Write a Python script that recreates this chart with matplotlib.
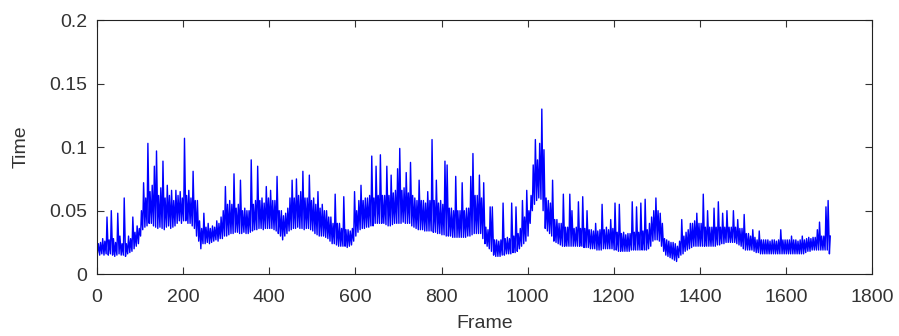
import numpy as np
import matplotlib
matplotlib.use("Agg")
import matplotlib.pyplot as plt

# Samples are read per 5-frame window: lowest and highest time in each window
frame_start = 1
frame_step = 5

window_min = [
    # 1-96
    0.017, 0.015, 0.016, 0.015, 0.016, 0.015, 0.016, 0.015, 0.014, 0.015,
    0.016, 0.015, 0.015, 0.014, 0.016, 0.017, 0.018, 0.020, 0.022, 0.024,
    # 101-196
    0.030, 0.035, 0.037, 0.038, 0.040, 0.040, 0.038, 0.037, 0.036, 0.037,
    0.036, 0.035, 0.037, 0.038, 0.036, 0.037, 0.038, 0.040, 0.042, 0.040,
    # 201-296
    0.042, 0.042, 0.040, 0.040, 0.038, 0.036, 0.030, 0.026, 0.020, 0.024,
    0.024, 0.025, 0.024, 0.025, 0.026, 0.027, 0.026, 0.028, 0.028, 0.030,
    # 301-396
    0.030, 0.031, 0.032, 0.032, 0.033, 0.033, 0.032, 0.032, 0.033, 0.032,
    0.032, 0.033, 0.034, 0.035, 0.035, 0.036, 0.036, 0.035, 0.036, 0.036,
    # 401-496
    0.036, 0.036, 0.035, 0.034, 0.032, 0.030, 0.027, 0.030, 0.032, 0.034,
    0.035, 0.036, 0.036, 0.037, 0.036, 0.036, 0.035, 0.036, 0.036, 0.035,
    # 501-596
    0.034, 0.032, 0.031, 0.030, 0.030, 0.030, 0.029, 0.028, 0.026, 0.024,
    0.024, 0.023, 0.022, 0.022, 0.022, 0.022, 0.021, 0.022, 0.023, 0.026,
    # 601-696
    0.030, 0.033, 0.035, 0.036, 0.036, 0.037, 0.037, 0.038, 0.038, 0.040,
    0.040, 0.040, 0.040, 0.040, 0.039, 0.038, 0.038, 0.039, 0.040, 0.040,
    # 701-796
    0.040, 0.040, 0.041, 0.040, 0.040, 0.040, 0.038, 0.037, 0.036, 0.035,
    0.035, 0.035, 0.034, 0.034, 0.034, 0.034, 0.033, 0.033, 0.032, 0.032,
    # 801-896
    0.031, 0.031, 0.030, 0.030, 0.030, 0.029, 0.029, 0.029, 0.029, 0.029,
    0.029, 0.029, 0.030, 0.030, 0.031, 0.032, 0.032, 0.032, 0.032, 0.028,
    # 901-996
    0.024, 0.022, 0.020, 0.018, 0.015, 0.014, 0.014, 0.014, 0.015, 0.015,
    0.016, 0.016, 0.016, 0.017, 0.017, 0.018, 0.020, 0.022, 0.024, 0.026,
    # 1001-1096
    0.030, 0.040, 0.050, 0.055, 0.058, 0.060, 0.059, 0.050, 0.036, 0.034,
    0.032, 0.030, 0.026, 0.025, 0.024, 0.023, 0.022, 0.022, 0.022, 0.022,
    # 1101-1196
    0.022, 0.022, 0.022, 0.022, 0.022, 0.022, 0.021, 0.021, 0.021, 0.020,
    0.020, 0.020, 0.019, 0.019, 0.019, 0.020, 0.020, 0.020, 0.020, 0.020,
    # 1201-1296
    0.019, 0.019, 0.018, 0.018, 0.018, 0.018, 0.018, 0.018, 0.019, 0.019,
    0.019, 0.019, 0.019, 0.019, 0.019, 0.019, 0.020, 0.022, 0.026, 0.027,
    # 1301-1396
    0.027, 0.026, 0.022, 0.018, 0.015, 0.014, 0.013, 0.012, 0.011, 0.010,
    0.013, 0.015, 0.016, 0.018, 0.019, 0.020, 0.021, 0.022, 0.022, 0.022,
    # 1401-1496
    0.022, 0.022, 0.022, 0.022, 0.022, 0.022, 0.022, 0.022, 0.023, 0.023,
    0.024, 0.024, 0.025, 0.025, 0.025, 0.025, 0.025, 0.024, 0.023, 0.022,
    # 1501-1596
    0.020, 0.019, 0.019, 0.019, 0.019, 0.018, 0.017, 0.017, 0.016, 0.016,
    0.016, 0.016, 0.016, 0.016, 0.016, 0.016, 0.016, 0.016, 0.016, 0.016,
    # 1601-1696
    0.016, 0.016, 0.016, 0.016, 0.016, 0.016, 0.016, 0.016, 0.016, 0.017,
    0.018, 0.018, 0.019, 0.019, 0.019, 0.019, 0.019, 0.019, 0.019, 0.019,
    # 1701
    0.016,
]

window_max = [
    # 1-96
    0.024, 0.025, 0.028, 0.026, 0.045, 0.027, 0.050, 0.028, 0.025, 0.048,
    0.030, 0.024, 0.060, 0.024, 0.030, 0.028, 0.045, 0.033, 0.038, 0.036,
    # 101-196
    0.050, 0.072, 0.060, 0.103, 0.065, 0.070, 0.085, 0.097, 0.062, 0.068,
    0.089, 0.060, 0.070, 0.062, 0.066, 0.058, 0.066, 0.062, 0.065, 0.060,
    # 201-296
    0.107, 0.062, 0.066, 0.060, 0.081, 0.058, 0.058, 0.042, 0.036, 0.048,
    0.037, 0.040, 0.036, 0.038, 0.037, 0.042, 0.040, 0.045, 0.050, 0.069,
    # 301-396
    0.055, 0.058, 0.055, 0.079, 0.052, 0.055, 0.074, 0.050, 0.052, 0.050,
    0.050, 0.090, 0.055, 0.058, 0.085, 0.058, 0.060, 0.056, 0.069, 0.060,
    # 401-496
    0.066, 0.058, 0.058, 0.077, 0.050, 0.050, 0.046, 0.048, 0.052, 0.060,
    0.074, 0.060, 0.075, 0.062, 0.065, 0.081, 0.060, 0.060, 0.078, 0.058,
    # 501-596
    0.060, 0.055, 0.065, 0.052, 0.055, 0.050, 0.050, 0.045, 0.045, 0.040,
    0.063, 0.040, 0.040, 0.036, 0.061, 0.035, 0.035, 0.034, 0.036, 0.065,
    # 601-696
    0.050, 0.058, 0.070, 0.058, 0.060, 0.060, 0.062, 0.093, 0.060, 0.085,
    0.062, 0.094, 0.062, 0.062, 0.085, 0.062, 0.078, 0.064, 0.066, 0.083,
    # 701-796
    0.099, 0.066, 0.068, 0.080, 0.064, 0.088, 0.062, 0.060, 0.058, 0.074,
    0.058, 0.058, 0.056, 0.065, 0.058, 0.106, 0.058, 0.074, 0.056, 0.058,
    # 801-896
    0.055, 0.089, 0.086, 0.052, 0.052, 0.050, 0.077, 0.050, 0.050, 0.072,
    0.050, 0.052, 0.052, 0.077, 0.095, 0.062, 0.062, 0.078, 0.060, 0.072,
    # 901-996
    0.037, 0.035, 0.053, 0.053, 0.027, 0.027, 0.026, 0.027, 0.056, 0.028,
    0.029, 0.028, 0.056, 0.030, 0.053, 0.032, 0.036, 0.058, 0.045, 0.066,
    # 1001-1096
    0.050, 0.062, 0.086, 0.106, 0.090, 0.103, 0.130, 0.098, 0.060, 0.058,
    0.056, 0.074, 0.043, 0.043, 0.040, 0.040, 0.063, 0.037, 0.037, 0.063,
    # 1101-1196
    0.050, 0.036, 0.037, 0.057, 0.036, 0.061, 0.036, 0.050, 0.035, 0.035,
    0.034, 0.040, 0.034, 0.035, 0.055, 0.035, 0.037, 0.035, 0.043, 0.036,
    # 1201-1296
    0.056, 0.033, 0.055, 0.032, 0.033, 0.031, 0.032, 0.032, 0.057, 0.033,
    0.053, 0.033, 0.056, 0.034, 0.059, 0.035, 0.040, 0.045, 0.050, 0.060,
    # 1301-1396
    0.050, 0.048, 0.040, 0.028, 0.027, 0.026, 0.025, 0.025, 0.024, 0.022,
    0.026, 0.043, 0.030, 0.033, 0.035, 0.040, 0.040, 0.042, 0.048, 0.040,
    # 1401-1496
    0.040, 0.063, 0.037, 0.050, 0.037, 0.037, 0.052, 0.037, 0.057, 0.037,
    0.048, 0.037, 0.050, 0.037, 0.037, 0.050, 0.037, 0.043, 0.036, 0.036,
    # 1501-1596
    0.047, 0.032, 0.032, 0.030, 0.035, 0.029, 0.027, 0.034, 0.027, 0.027,
    0.027, 0.027, 0.026, 0.027, 0.027, 0.026, 0.027, 0.035, 0.027, 0.027,
    # 1601-1696
    0.027, 0.027, 0.030, 0.027, 0.027, 0.026, 0.027, 0.030, 0.027, 0.028,
    0.029, 0.028, 0.029, 0.029, 0.035, 0.041, 0.030, 0.030, 0.053, 0.058,
    # 1701
    0.030,
]

x_ticks = [0, 200, 400, 600, 800, 1000, 1200, 1400, 1600, 1800]
y_ticks = [0, 0.05, 0.1, 0.15, 0.2]
y_tick_labels = ["0", "0.05", "0.1", "0.15", "0.2"]
x_label = "Frame"
y_label = "Time"

# Interleave low/high readings of each window into one time series
win_frames = frame_start + frame_step * np.arange(len(window_min))
frames = np.column_stack([win_frames, win_frames + 2]).ravel()
times = np.column_stack([window_min, window_max]).ravel()

plt.rcParams["font.family"] = ["Liberation Sans", "DejaVu Sans"]
fig = plt.figure(figsize=(8.99, 3.36), dpi=100)
ax = fig.add_axes([0.108, 0.184, 0.862, 0.756])

ax.plot(frames, times, color="#0000ff", linewidth=1.0)

ax.set_xlim(0, 1800)
ax.set_ylim(0, 0.2)
ax.set_xticks(x_ticks)
ax.set_xticklabels([str(t) for t in x_ticks])
ax.set_yticks(y_ticks)
ax.set_yticklabels(y_tick_labels)
ax.tick_params(direction="in", top=True, right=True, length=5,
               labelsize=14, colors="#333333", width=0.8)
ax.tick_params(axis="x", pad=11)
ax.tick_params(axis="y", pad=7)
for s in ax.spines.values():
    s.set_linewidth(0.8)
    s.set_color("#222222")
ax.set_xlabel(x_label, fontsize=14, color="#333333", labelpad=6)
ax.set_ylabel(y_label, fontsize=14, color="#333333", labelpad=14)

fig.savefig("out.png", dpi=100)
